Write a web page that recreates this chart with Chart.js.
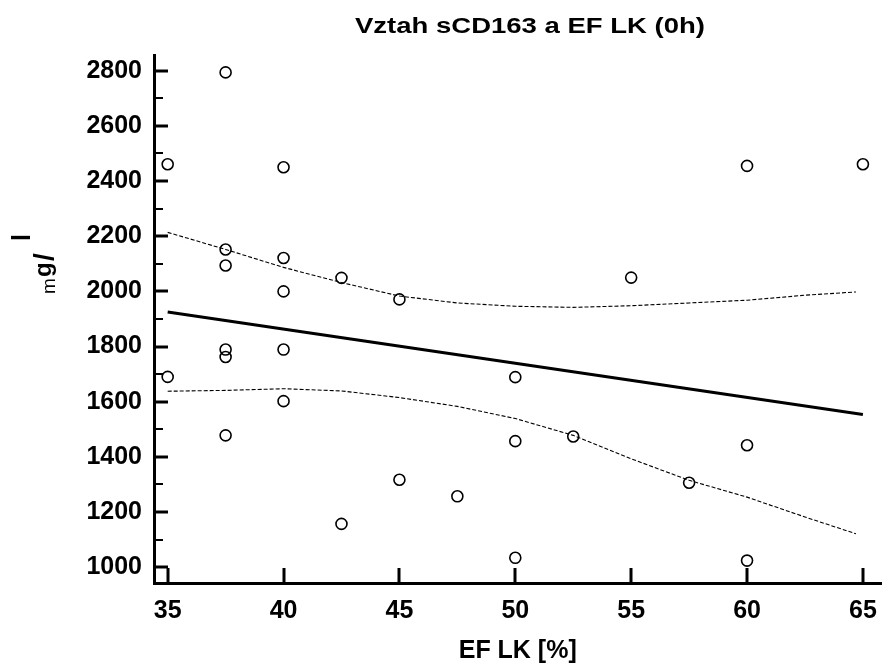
<!DOCTYPE html>
<html><head><meta charset="utf-8">
<script src="https://cdn.jsdelivr.net/npm/chart.js@4/dist/chart.umd.min.js"></script>
<style>html,body{margin:0;padding:0;background:#fff}</style>
</head><body>
<canvas id="c" width="890" height="668"></canvas>
<script>
const chartTitle = 'Vztah sCD163 a EF LK (0h)';
const xTitle = 'EF LK [%]';
const efLK = [35,35,37.5,37.5,37.5,37.5,37.5,37.5,40,40,40,40,40,42.5,42.5,45,45,47.5,50,50,50,52.5,55,57.5,60,60,60,65];
const sCD163 = [2461,1690,2794,2152,2094,1789,1762,1478,2450,2121,2000,1789,1602,2049,1157,1971,1317,1257,1689,1457,1034,1474,2050,1306,2455,1442,1024,2461];
const fitX = [35, 65];
const fitY = [1925, 1554];
const bandX = [35,37.5,40,42.5,45,47.5,50,52.5,55,57.5,60,62.5,64.7];
const upperY = [2214,2152,2087,2032,1983,1958,1946,1942,1948,1958,1968,1986,1998];
const lowerY = [1638,1641,1647,1639,1615,1583,1539,1478,1393,1315,1254,1182,1121];
const xTicks = [35,40,45,50,55,60,65];
const yTicks = [1000,1200,1400,1600,1800,2000,2200,2400,2600,2800];
const yMinorTicks = [1100,1300,1500,1700,1900,2100,2300,2500,2700];

const FONT = '"Liberation Sans", Arial, Helvetica, sans-serif';
Chart.defaults.color = '#000';
Chart.defaults.font.family = FONT;

const pts = efLK.map((x,i)=>({x, y:sCD163[i]}));
const fit = fitX.map((x,i)=>({x, y:fitY[i]}));
const up = bandX.map((x,i)=>({x, y:upperY[i]}));
const lo = bandX.map((x,i)=>({x, y:lowerY[i]}));

const decor = {
  id:'decor',
  afterDraw(chart){
    const {ctx, chartArea:a, scales:{x,y}} = chart;
    ctx.save();
    ctx.strokeStyle = '#000';
    ctx.lineCap = 'butt';
    const seg = (x1,y1,x2,y2)=>{ctx.beginPath();ctx.moveTo(x1,y1);ctx.lineTo(x2,y2);ctx.stroke();};
    ctx.lineWidth = 3;
    yTicks.forEach(v=>{const p=Math.round(y.getPixelForValue(v)); seg(a.left, p, a.left+14, p);});
    ctx.lineWidth = 2;
    yMinorTicks.forEach(v=>{const p=Math.round(y.getPixelForValue(v)); seg(a.left, p, a.left+9, p);});
    ctx.lineWidth = 3;
    xTicks.forEach(v=>{const p=Math.round(x.getPixelForValue(v)); seg(p, a.bottom, p, a.bottom-15);});
    // chart title (stretched to match reference width)
    ctx.fillStyle = '#000';
    ctx.font = 'bold 22px ' + FONT;
    const w = ctx.measureText(chartTitle).width;
    ctx.save();
    ctx.translate(530, 27);
    ctx.scale(350 / w, 1);
    ctx.textAlign = 'center';
    ctx.textBaseline = 'middle';
    ctx.fillText(chartTitle, 0, 0);
    ctx.restore();
    // y axis title
    ctx.save();
    ctx.translate(0, 294);
    ctx.rotate(-Math.PI/2);
    ctx.textBaseline = 'alphabetic';
    ctx.textAlign = 'left';
    ctx.font = '19px ' + FONT;
    ctx.fillText('m', 0, 55);
    ctx.font = 'bold 24px ' + FONT;
    ctx.fillText('g', 17, 51);
    ctx.font = 'bold 28px ' + FONT;
    ctx.fillText('/', 33, 53);
    ctx.font = 'bold 25px ' + FONT;
    ctx.fillText('l', 53, 30);
    ctx.restore();
    ctx.restore();
  }
};

new Chart(document.getElementById('c'), {
  type: 'scatter',
  data: { datasets: [
    { label:'sCD163', data: pts, pointRadius:5.5, pointBorderWidth:1.6, pointBorderColor:'#000', pointBackgroundColor:'rgba(0,0,0,0)', showLine:false },
    { label:'fit', type:'line', data: fit, borderColor:'#000', borderWidth:3, pointRadius:0, fill:false, tension:0 },
    { label:'upper', type:'line', data: up, borderColor:'#000', borderWidth:1.1, borderDash:[4,2], pointRadius:0, fill:false, tension:0 },
    { label:'lower', type:'line', data: lo, borderColor:'#000', borderWidth:1.1, borderDash:[4,2], pointRadius:0, fill:false, tension:0 }
  ]},
  options: {
    responsive:false,
    animation:false,
    layout:{ padding:{ top:55, left:0, right:0, bottom:0 } },
    plugins:{ legend:{display:false}, tooltip:{enabled:false}, title:{display:false} },
    scales:{
      x:{
        type:'linear', min:34.41, max:65.8,
        afterBuildTicks: s=>{ s.ticks = xTicks.map(v=>({value:v})); },
        afterFit: s=>{ s.height = 85; },
        grid:{ display:false, drawTicks:false },
        border:{ display:true, width:3, color:'#000' },
        ticks:{ font:{ size:25, weight:'bold' }, padding:13, maxRotation:0, color:'#000', callback: v=>String(v) },
        title:{ display:true, text:xTitle, font:{ size:25, weight:'bold' }, padding:{ top:0, bottom:2 }, color:'#000' }
      },
      y:{
        type:'linear', min:942.7, max:2857,
        afterBuildTicks: s=>{ s.ticks = yTicks.map(v=>({value:v})); },
        afterFit: s=>{ s.width = 154; },
        grid:{ display:false, drawTicks:false },
        border:{ display:true, width:3, color:'#000' },
        ticks:{ font:{ size:25, weight:'bold' }, padding:12, color:'#000', callback: v=>String(v) }
      }
    }
  },
  plugins:[decor]
});
</script>
</body></html>
